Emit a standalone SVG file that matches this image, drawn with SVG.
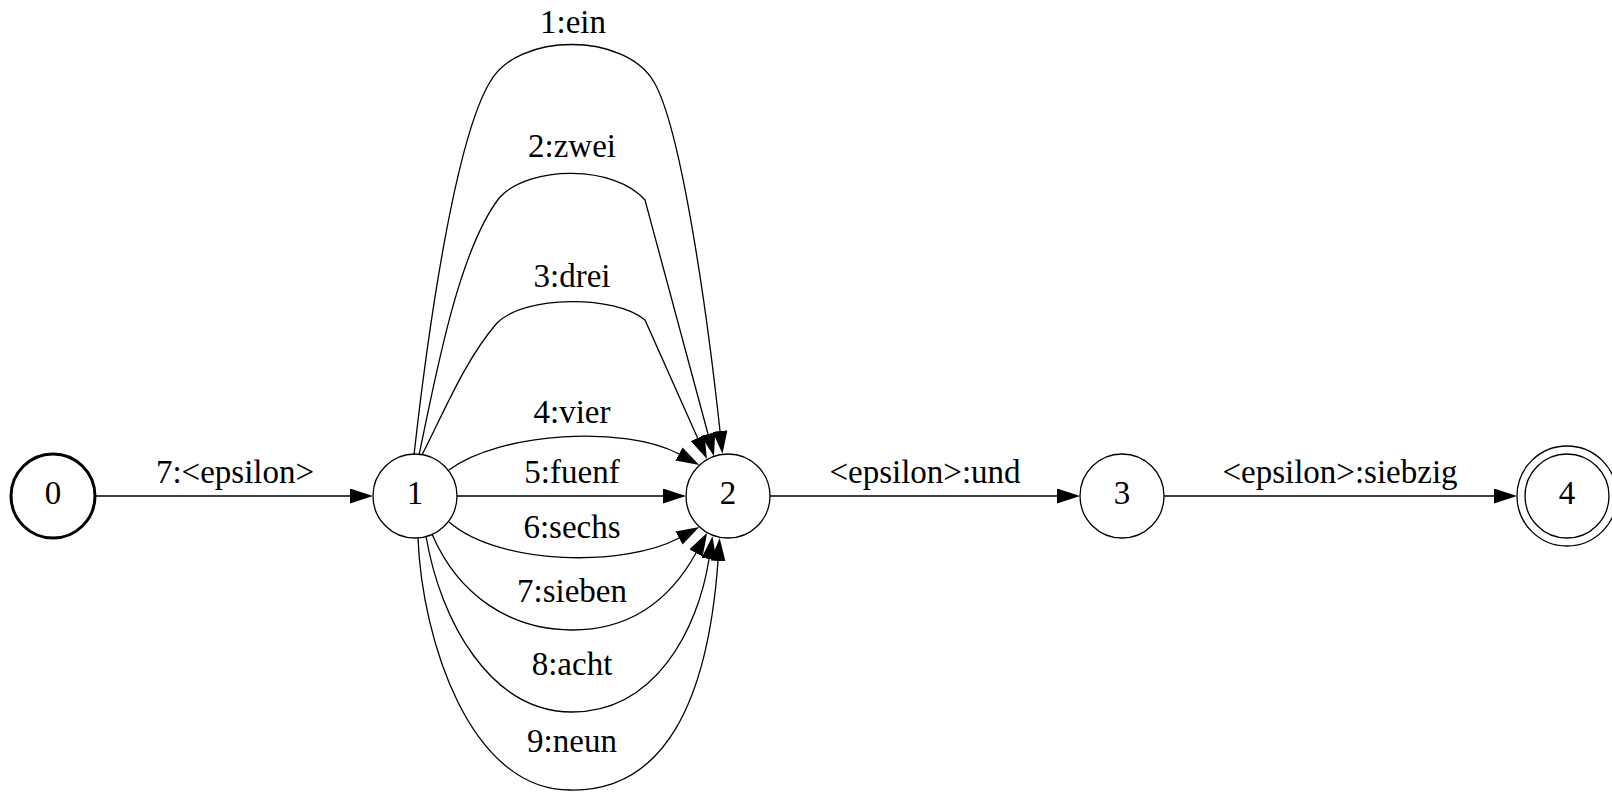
<svg xmlns="http://www.w3.org/2000/svg" width="1612" height="794" viewBox="0 0 1612 794">
  <style>
    .bg { fill: #ffffff; }
    .node circle { fill: none; stroke: #000; stroke-width: 1.3; }
    .node.start circle { stroke-width: 3; }
    .edge { fill: none; stroke: #000; stroke-width: 1.3; marker-end: url(#arrow); }
    text { font-family: 'Liberation Serif', 'DejaVu Serif', serif; font-size: 33px; fill: #000; text-anchor: middle; }
  </style>
  <defs>
    <marker id="arrow" markerUnits="userSpaceOnUse" viewBox="0 0 23 15" markerWidth="23" markerHeight="15" refX="0" refY="7.5" orient="auto">
      <path d="M0,0 L23,7.5 L0,15 Z" fill="#000"/>
    </marker>
  </defs>
  <rect class="bg" x="0" y="0" width="1612" height="794"/>

  <!-- states -->
  <g id="node0" class="node start">
    <circle cx="53" cy="496" r="42"/>
    <text x="53" y="504" font-family="Liberation Serif, serif">0</text>
  </g>
  <g id="node1" class="node">
    <circle cx="415" cy="496" r="42"/>
    <text x="415" y="504" font-family="Liberation Serif, serif">1</text>
  </g>
  <g id="node2" class="node">
    <circle cx="728" cy="496" r="42"/>
    <text x="728" y="504" font-family="Liberation Serif, serif">2</text>
  </g>
  <g id="node3" class="node">
    <circle cx="1122" cy="496" r="42"/>
    <text x="1122" y="504" font-family="Liberation Serif, serif">3</text>
  </g>
  <g id="node4" class="node final">
    <circle cx="1567" cy="496" r="42"/>
    <circle cx="1567" cy="496" r="50"/>
    <text x="1567" y="504" font-family="Liberation Serif, serif">4</text>
  </g>

  <!-- transitions -->
  <g id="edges" font-family="Liberation Serif, serif">
    <path class="edge" d="M96,496 L350,496"/>
    <text x="235" y="483">7:&lt;epsilon&gt;</text>

    <path class="edge" d="M414,455 C428,330 455,140 490,82 C518,32 625,32 654,82 C682,130 708,320 720,431"/>
    <text x="573" y="33">1:ein</text>

    <path class="edge" d="M419,455 C435,380 458,250 500,197 C530,165 615,165 645,200 L708,434"/>
    <text x="572" y="157">2:zwei</text>

    <path class="edge" d="M422,455 C445,410 465,360 497,323 C525,295 615,295 645,320 L697.6,438"/>
    <text x="572" y="287">3:drei</text>

    <path class="edge" d="M449,470 C500,432 625,425 679,454"/>
    <text x="572" y="423">4:vier</text>

    <path class="edge" d="M457,496 L663,496"/>
    <text x="572" y="483">5:fuenf</text>

    <path class="edge" d="M449,522 C500,566 625,567 679,538"/>
    <text x="572" y="538">6:sechs</text>

    <path class="edge" d="M432,534 C458,595 510,630 572,630 C630,630 670,600 696,553"/>
    <text x="572" y="602">7:sieben</text>

    <path class="edge" d="M426,536 C440,620 490,712 572,712 C655,712 698,630 709,559"/>
    <text x="572" y="675">8:acht</text>

    <path class="edge" d="M418,538 C422,640 470,790 570,790 C665,792 708,700 718,561"/>
    <text x="572" y="752">9:neun</text>

    <path class="edge" d="M770,496 L1057,496"/>
    <text x="925" y="483">&lt;epsilon&gt;:und</text>

    <path class="edge" d="M1164,496 L1494,496"/>
    <text x="1340" y="483">&lt;epsilon&gt;:siebzig</text>
  </g>
</svg>
